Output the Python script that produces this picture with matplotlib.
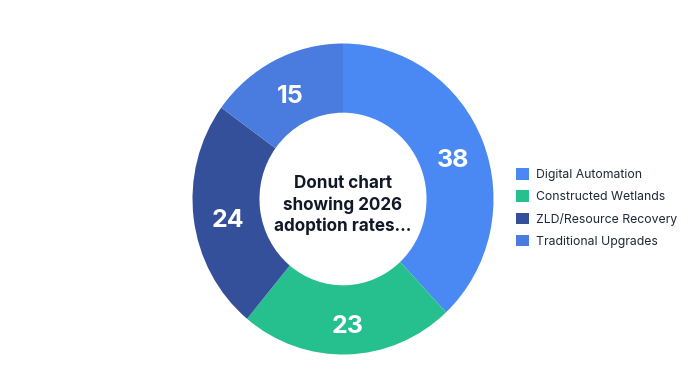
import matplotlib.pyplot as plt
from matplotlib.patches import Patch
from matplotlib.transforms import offset_copy

plt.rcParams['font.family'] = ['Inter', 'DejaVu Sans']

categories = ['Digital Automation', 'Constructed Wetlands', 'ZLD/Resource Recovery', 'Traditional Upgrades']
values = [38, 23, 24, 15]
colors = ['#4a89f4', '#26c08e', '#34509a', '#4a7ce0']

fig = plt.figure(figsize=(7, 3.91), dpi=100)
# donut is slightly taller than wide in the reference
ax = fig.add_axes([192.5 / 700, 36.5 / 391, 301 / 700, 311 / 391])

wedges, texts = ax.pie(values, colors=colors, startangle=90, counterclock=False,
                       radius=1.0, wedgeprops=dict(width=0.445, edgecolor='none'),
                       labels=[str(v) for v in values], labeldistance=0.78)
# value labels sit a little below the arc centre in the reference
lbl_tr = offset_copy(ax.transData, fig=fig, x=1, y=-6, units='dots')
for t in texts:
    t.set_transform(lbl_tr)
    t.set_color('white')
    t.set_fontsize(18)
    t.set_fontweight('bold')
    t.set_ha('center')
    t.set_va('center')
ax.set_aspect('auto')
ax.set_xlim(-1, 1)
ax.set_ylim(-1, 1)

ax.text(0, -0.04, 'Donut chart\nshowing 2026\nadoption rates...', ha='center', va='center',
        fontsize=12.3, fontweight='bold', color='#111827', linespacing=1.3)

handles = [Patch(facecolor=c, edgecolor='none') for c in colors]
fig.legend(handles, categories, loc='center left', bbox_to_anchor=(505 / 700, 1 - 208 / 391),
           frameon=False, fontsize=8.8, handlelength=1.05, handleheight=1.05,
           handletextpad=0.55, labelspacing=0.75, labelcolor='#1f2937')

fig.savefig('out.png', dpi=100, facecolor='white')
